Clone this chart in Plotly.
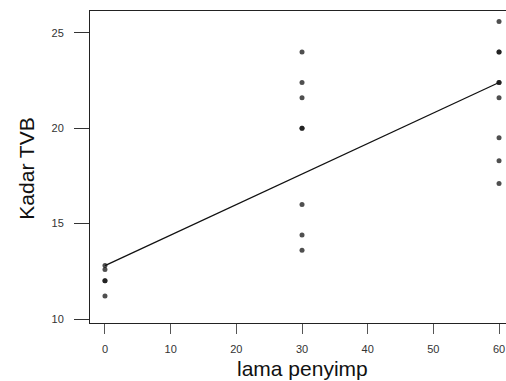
import plotly.graph_objects as go

# Data
lama_penyimp = [0, 0, 0, 0, 0,
                30, 30, 30, 30, 30, 30, 30, 30,
                60, 60, 60, 60, 60, 60, 60, 60, 60]
kadar_tvb = [12.8, 12.6, 12.0, 12.0, 11.2,
             24.0, 22.4, 21.6, 20.0, 20.0, 16.0, 14.4, 13.6,
             25.6, 24.0, 24.0, 22.4, 22.4, 21.6, 19.5, 18.3, 17.1]

fit_x = [0, 60]
fit_y = [12.8, 22.4]

x_ticks = [0, 10, 20, 30, 40, 50, 60]
y_ticks = [10, 15, 20, 25]

FONT = "Liberation Sans, Arial, sans-serif"

fig = go.Figure()
fig.add_trace(go.Scatter(
    x=fit_x, y=fit_y, mode="lines",
    line=dict(color="#111111", width=1.3),
    hoverinfo="skip", showlegend=False,
))
fig.add_trace(go.Scatter(
    x=lama_penyimp, y=kadar_tvb, mode="markers",
    marker=dict(size=5, color="rgba(20,20,20,0.75)", line=dict(width=0)),
    showlegend=False,
))

fig.update_layout(
    width=506, height=381,
    margin=dict(l=90, r=0, t=11, b=58),
    paper_bgcolor="white", plot_bgcolor="white",
    font=dict(family=FONT, color="#333333", size=11),
    xaxis=dict(
        range=[-2.28, 61.06], tickvals=x_ticks, ticktext=[str(v) for v in x_ticks],
        showgrid=False, zeroline=False,
        showline=True, linecolor="#222222", linewidth=1, mirror=True,
        ticks="outside", ticklen=10, tickcolor="#555555", tickwidth=1,
        ticklabelstandoff=6,
        tickfont=dict(family=FONT, size=11, color="#333333"),
    ),
    yaxis=dict(
        range=[9.79, 26.15], tickvals=y_ticks, ticktext=[str(v) for v in y_ticks],
        showgrid=False, zeroline=False,
        showline=True, linecolor="#222222", linewidth=1,
        ticks="outside", ticklen=15, tickcolor="#333333", tickwidth=1,
        ticklabelstandoff=8,
        tickfont=dict(family=FONT, size=11, color="#333333"),
    ),
    annotations=[
        dict(text="lama penyimp", xref="paper", yref="paper",
             x=0.51, y=-0.147, xanchor="center", yanchor="middle",
             showarrow=False, font=dict(family=FONT, size=21, color="#111111")),
        dict(text="Kadar TVB", xref="paper", yref="paper",
             x=-0.152, y=0.494, xanchor="center", yanchor="middle", textangle=-90,
             showarrow=False, font=dict(family=FONT, size=21, color="#111111")),
    ],
)

fig.write_html("out.html")
